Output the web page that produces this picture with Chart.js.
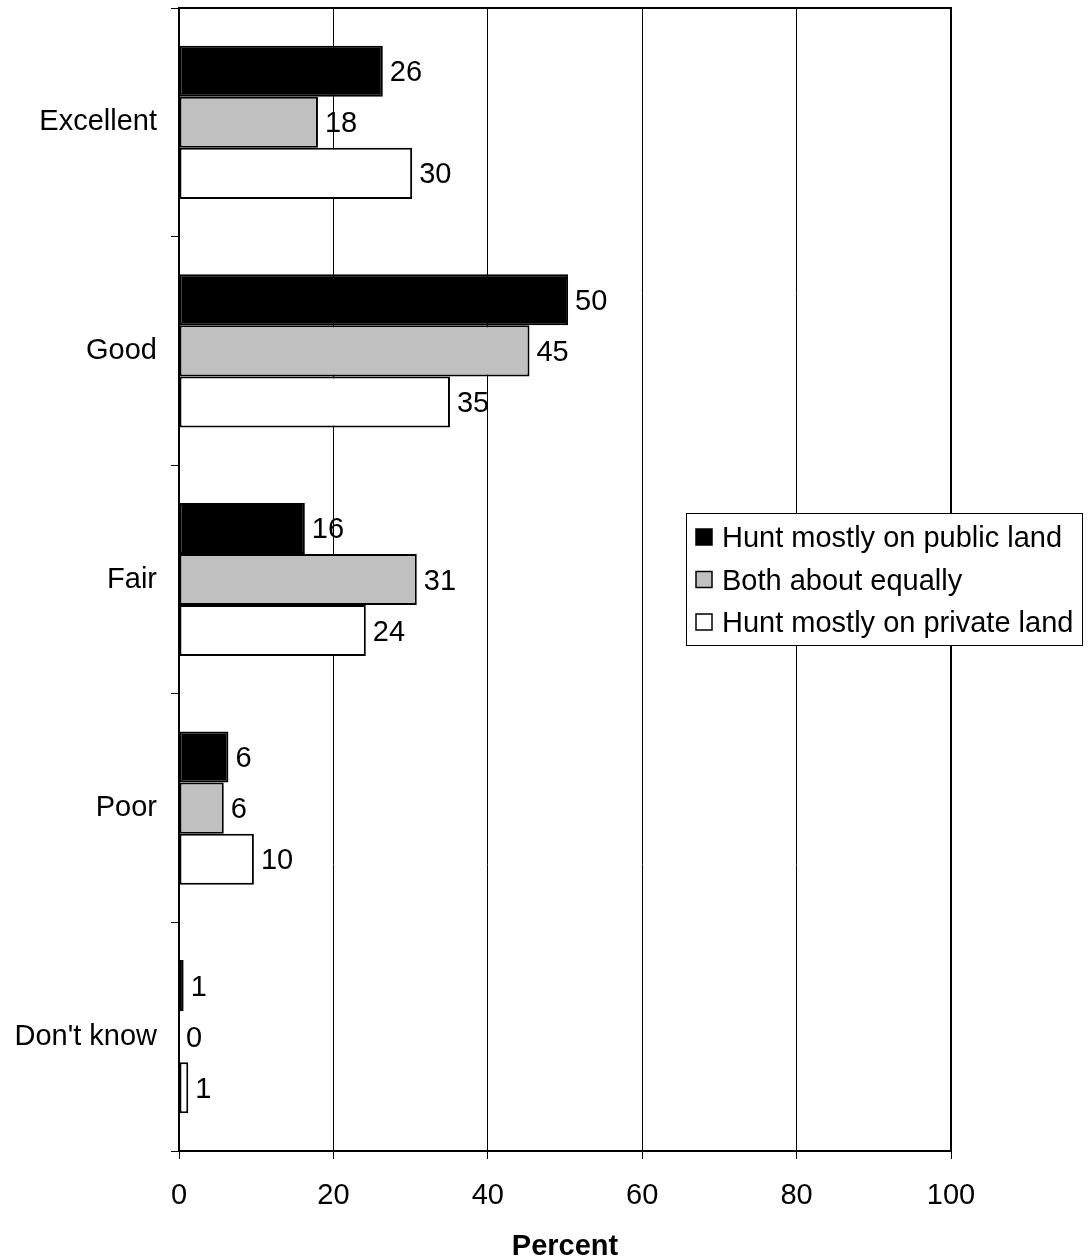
<!DOCTYPE html>
<html>
<head>
<meta charset="utf-8">
<script src="https://cdn.jsdelivr.net/npm/chart.js@4/dist/chart.umd.min.js"></script>
<style>
  html, body { margin: 0; padding: 0; background: #fff; }
  #wrap { width: 1089px; height: 1259px; position: relative; }
</style>
</head>
<body>
<div id="wrap"><canvas id="ratingChart"></canvas></div>
<script>
const categories = ["Excellent", "Good", "Fair", "Poor", "Don't know"];
const publicLand = [26.4, 50.4, 16.3, 6.4, 0.6];
const bothEqually = [18.0, 45.4, 30.8, 5.8, 0];
const privateLand = [30.2, 35.1, 24.2, 9.7, 1.2];
const xTicks = [0, 20, 40, 60, 80, 100];

const FONT = "'Liberation Sans', Arial, sans-serif";

// value labels at the end of each bar
const barLabels = {
  id: 'barLabels',
  afterDatasetsDraw(chart) {
    const ctx = chart.ctx;
    ctx.save();
    ctx.font = `29px ${FONT}`;
    ctx.fillStyle = '#000';
    ctx.textAlign = 'left';
    ctx.textBaseline = 'middle';
    chart.data.datasets.forEach((ds, i) => {
      chart.getDatasetMeta(i).data.forEach((bar, j) => {
        ctx.fillText(Math.round(ds.data[j]), bar.x + 7, bar.y + 2);
      });
    });
    ctx.restore();
  }
};

// plot border + boxed legend
const frameAndLegend = {
  id: 'frameAndLegend',
  afterDraw(chart) {
    const ctx = chart.ctx;
    const a = chart.chartArea;
    ctx.save();
    ctx.strokeStyle = '#000';
    ctx.lineWidth = 2;
    ctx.strokeRect(a.left, a.top, a.right - a.left, a.bottom - a.top);

    const bx = 686, by = 513, bw = 396, bh = 132;
    ctx.fillStyle = '#fff';
    ctx.fillRect(bx, by, bw, bh);
    ctx.lineWidth = 1;
    ctx.strokeRect(bx + 0.5, by + 0.5, bw, bh);
    ctx.font = `29px ${FONT}`;
    ctx.textBaseline = 'middle';
    ctx.textAlign = 'left';
    chart.data.datasets.forEach((ds, i) => {
      const cy = by + 24 + i * 42.5;
      ctx.fillStyle = ds.backgroundColor;
      ctx.fillRect(696, cy - 8, 16, 16);
      ctx.lineWidth = 1.5;
      ctx.strokeStyle = '#000';
      ctx.strokeRect(696, cy - 8, 16, 16);
      ctx.fillStyle = '#000';
      ctx.fillText(ds.label, 722, cy + 2);
    });
    ctx.restore();
  }
};

new Chart(document.getElementById('ratingChart').getContext('2d'), {
  type: 'bar',
  data: {
    labels: categories,
    datasets: [
      { label: 'Hunt mostly on public land', data: publicLand, backgroundColor: '#000000' },
      { label: 'Both about equally', data: bothEqually, backgroundColor: '#c0c0c0' },
      { label: 'Hunt mostly on private land', data: privateLand, backgroundColor: '#ffffff' }
    ].map(d => Object.assign(d, {
      borderColor: '#000', borderWidth: 2, borderSkipped: false,
      categoryPercentage: 0.67, barPercentage: 1.0
    }))
  },
  options: {
    indexAxis: 'y',
    responsive: true,
    maintainAspectRatio: false,
    animation: false,
    layout: { padding: { top: 8, right: 138, left: 0, bottom: 0 } },
    plugins: { legend: { display: false }, tooltip: { enabled: false } },
    scales: {
      x: {
        min: 0, max: 100,
        afterFit(scale) { scale.height = 108; scale.paddingLeft = 0; scale.paddingRight = 0; },
        afterBuildTicks(scale) { scale.ticks = xTicks.map(v => ({ value: v })); },
        grid: { color: '#000', lineWidth: 1, tickLength: 8 },
        border: { color: '#000', width: 2 },
        ticks: { color: '#000', font: { family: FONT, size: 29 }, padding: 20, maxRotation: 0 },
        title: { display: true, text: 'Percent', color: '#000',
                 font: { family: FONT, size: 29, weight: 'bold' }, padding: { top: 0, bottom: -5 } }
      },
      y: {
        afterFit(scale) { scale.width = 179; scale.paddingTop = 0; scale.paddingBottom = 0; },
        grid: { offset: true, drawOnChartArea: false, drawTicks: true, tickLength: 8, color: '#000' },
        border: { color: '#000', width: 2 },
        ticks: { color: '#000', font: { family: FONT, size: 29 }, padding: 14 }
      }
    }
  },
  plugins: [barLabels, frameAndLegend]
});
</script>
</body>
</html>
